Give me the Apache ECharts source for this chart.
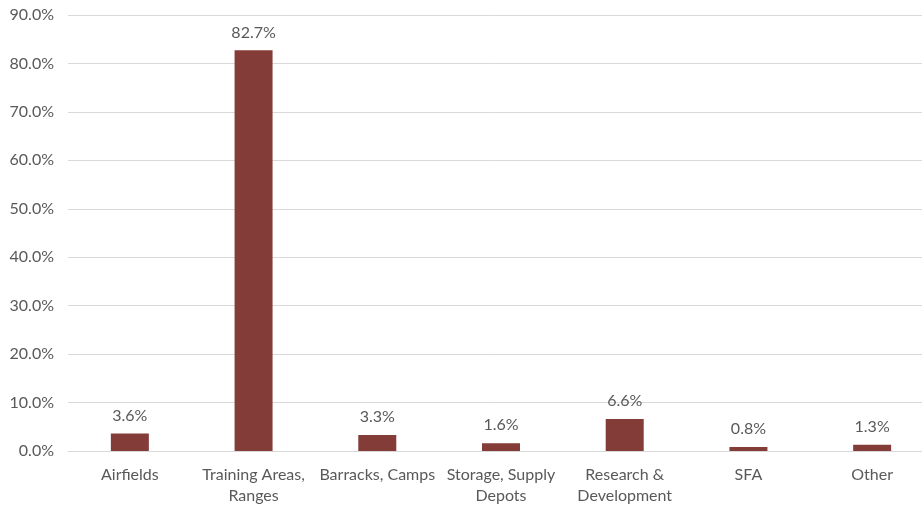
<!DOCTYPE html>
<html>
<head>
<meta charset="utf-8">
<script src="https://cdn.jsdelivr.net/npm/echarts@6/dist/echarts.min.js"></script>
<style>
  html, body { margin: 0; padding: 0; background: #fff; }
  #chart { width: 922px; height: 506px; }
</style>
</head>
<body>
<div id="chart"></div>
<script>
// Share of sites by installation type (percent)
const categories = [
  'Airfields',
  'Training Areas,\nRanges',
  'Barracks, Camps',
  'Storage, Supply\nDepots',
  'Research &\nDevelopment',
  'SFA',
  'Other'
];
const shares = [3.6, 82.7, 3.3, 1.6, 6.6, 0.8, 1.3];
const yTicks = { min: 0, max: 90, interval: 10 };

const textColor = '#595959';
const fontFamily = 'Lato, "Open Sans", sans-serif';

const chart = echarts.init(document.getElementById('chart'), null, { renderer: 'canvas' });
chart.setOption({
  animation: false,
  // plot area runs slightly past the right edge of the canvas
  grid: {
    left: 68, width: 866, top: 15, bottom: 55,
    containLabel: false, outerBoundsMode: 'none'
  },
  xAxis: {
    type: 'category',
    data: categories,
    axisLine: { show: true, lineStyle: { color: '#d9d9d9', width: 1 } },
    axisTick: { show: false },
    axisLabel: {
      color: textColor, fontFamily: fontFamily, fontSize: 16,
      interval: 0, margin: 13, lineHeight: 21
    }
  },
  yAxis: {
    type: 'value',
    min: yTicks.min, max: yTicks.max, interval: yTicks.interval,
    axisLine: { show: false },
    axisTick: { show: false },
    splitLine: { lineStyle: { color: '#d9d9d9', width: 1 } },
    axisLabel: {
      color: textColor, fontFamily: fontFamily, fontSize: 16, margin: 14,
      formatter: v => v.toFixed(1) + '%'
    }
  },
  series: [{
    type: 'bar',
    data: shares,
    barWidth: 38,
    itemStyle: { color: '#843c39' },
    label: {
      show: true, position: 'top', distance: 10,
      color: textColor, fontFamily: fontFamily, fontSize: 16,
      formatter: p => p.value.toFixed(1) + '%'
    }
  }]
});
</script>
</body>
</html>
